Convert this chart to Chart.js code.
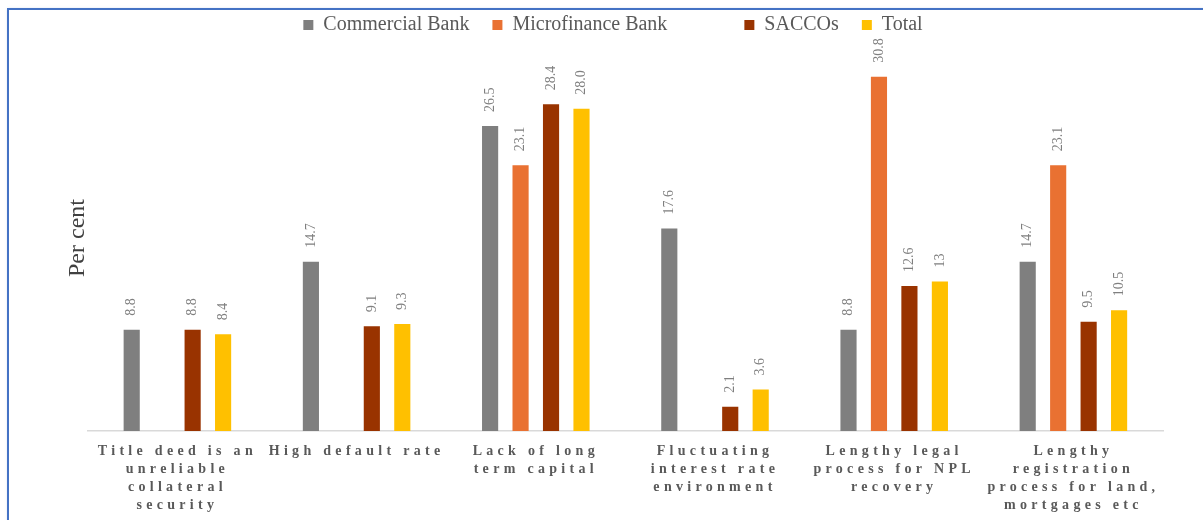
<!DOCTYPE html>
<html>
<head>
<meta charset="utf-8">
<script src="https://cdn.jsdelivr.net/npm/chart.js@4"></script>
<style>
  html, body { margin: 0; padding: 0; background: #fff; overflow: hidden; }
  .frame {
    position: absolute; left: 7px; top: 8px;
    width: 1300px; height: 700px;
    border: 2px solid #4472c4;
    box-shadow: 1px 1px 3px rgba(68, 114, 196, 0.35);
  }
  .wrap { position: absolute; left: 0; top: 0; width: 1203px; height: 520px; }
</style>
</head>
<body>
<div class="frame"></div>
<div class="wrap"><canvas id="chart"></canvas></div>
<script>
const categories = [
  ["Title deed is an", "unreliable", "collateral", "security"],
  ["High default rate"],
  ["Lack of long", "term capital"],
  ["Fluctuating", "interest rate", "environment"],
  ["Lengthy legal", "process for NPL", "recovery"],
  ["Lengthy", "registration", "process for land,", "mortgages etc"]
];

// values kept as printed so the labels read the same as the bars
const commercialBank = ["8.8", "14.7", "26.5", "17.6", "8.8", "14.7"];
const microfinanceBank = [null, null, "23.1", null, "30.8", "23.1"];
const saccos = ["8.8", "9.1", "28.4", "2.1", "12.6", "9.5"];
const total = ["8.4", "9.3", "28.0", "3.6", "13", "10.5"];

const seriesNames = ["Commercial Bank", "Microfinance Bank", "SACCOs", "Total"];
const seriesColors = ["#7f7f7f", "#e97132", "#993300", "#ffc000"];

const SERIF = '"Liberation Serif", "Times New Roman", serif';

// rotated value labels above each bar
const barValueLabels = {
  id: "barValueLabels",
  afterDatasetsDraw(chart) {
    const ctx = chart.ctx;
    ctx.save();
    ctx.font = "14px " + SERIF;
    ctx.fillStyle = "#7f7f7f";
    ctx.textAlign = "left";
    ctx.textBaseline = "middle";
    chart.data.datasets.forEach((ds, i) => {
      chart.getDatasetMeta(i).data.forEach((bar, j) => {
        const v = ds.data[j];
        if (v == null) return;
        ctx.save();
        ctx.translate(bar.x, bar.y - 14);
        ctx.rotate(-Math.PI / 2);
        ctx.fillText(v, 0, 0);
        ctx.restore();
      });
    });
    ctx.restore();
  }
};

// wide letter spacing on the category labels
const spacedTicks = {
  id: "spacedTicks",
  beforeDraw(chart) {
    const x = chart.scales.x;
    if (x._spaced) return;
    const draw = x.drawLabels.bind(x);
    x.drawLabels = function (area) {
      chart.ctx.save();
      chart.ctx.letterSpacing = "4.3px";
      draw(area);
      chart.ctx.restore();
    };
    x._spaced = true;
  }
};

const seriesData = [commercialBank, microfinanceBank, saccos, total];

new Chart(document.getElementById("chart"), {
  type: "bar",
  data: {
    labels: categories,
    datasets: seriesNames.map((name, i) => ({
      label: name,
      data: seriesData[i],
      backgroundColor: seriesColors[i],
      borderWidth: 0,
      categoryPercentage: 0.68,
      barPercentage: 0.53
    }))
  },
  options: {
    responsive: true,
    maintainAspectRatio: false,
    animation: false,
    layout: { padding: { left: 63, right: 40, top: -8, bottom: 3 } },
    plugins: {
      tooltip: { enabled: false },
      legend: {
        position: "top",
        labels: {
          boxWidth: 10,
          boxHeight: 10,
          padding: 23,
          color: "#595959",
          font: { family: SERIF, size: 20 },
          generateLabels(chart) {
            const items = Chart.defaults.plugins.legend.labels.generateLabels(chart);
            // wider gap after the second entry
            items[1].text += "\u2003\u2003\u2002\u2009";
            return items;
          }
        }
      }
    },
    scales: {
      x: {
        grid: { display: false },
        border: { display: true, color: "#d9d9d9", width: 1.5 },
        ticks: {
          autoSkip: false,
          maxRotation: 0,
          minRotation: 0,
          color: "#595959",
          padding: 3,
          font: { family: SERIF, size: 14, weight: "bold", lineHeight: 18 / 14 }
        }
      },
      y: {
        min: 0,
        max: 33.55,
        grid: { display: false },
        border: { display: false },
        ticks: { display: false },
        title: {
          display: true,
          text: "Per cent",
          color: "#404040",
          font: { family: SERIF, size: 24 },
          padding: { top: 0, bottom: -12 }
        }
      }
    }
  },
  plugins: [barValueLabels, spacedTicks]
});
</script>
</body>
</html>
